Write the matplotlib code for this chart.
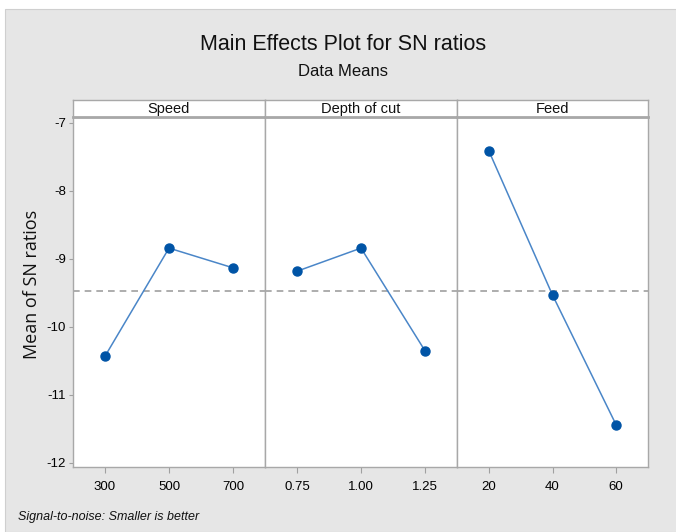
import matplotlib
matplotlib.use("Agg")
import matplotlib.pyplot as plt
from matplotlib.patches import Rectangle
import logging
logging.getLogger("matplotlib.font_manager").setLevel(logging.ERROR)

factors = ["Speed", "Depth of cut", "Feed"]
levels = [["300", "500", "700"], ["0.75", "1.00", "1.25"], ["20", "40", "60"]]
speed_sn = [-10.43, -8.84, -9.13]
depth_sn = [-9.18, -8.84, -10.35]
feed_sn = [-7.41, -9.53, -11.44]
series = [speed_sn, depth_sn, feed_sn]
yticks = [-7, -8, -9, -10, -11, -12]

grand_mean = sum(speed_sn) / 3.0

W, H = 676, 532
fig = plt.figure(figsize=(W / 100, H / 100), dpi=100)
fig.patch.set_facecolor("white")
fig.add_artist(Rectangle((5 / W, 0), 1, 1 - 9 / H, transform=fig.transFigure,
                         facecolor="#e6e6e6", edgecolor="#cfcfcf", lw=0.8, zorder=0))

narrow = ["Liberation Sans", "DejaVu Sans"]

fig.text(343 / W, 1 - 45 / H, "Main Effects Plot for SN ratios", ha="center", va="center",
         fontsize=15.5, family=narrow, color="#111111")
fig.text(343 / W, 1 - 72 / H, "Data Means", ha="center", va="center",
         fontsize=12, family=narrow, color="#111111")

edges = [73, 265, 457, 648]
top, bottom = 117, 467
strip_top = 100
line_col = "#4a86c8"
mark_col = "#0054a6"
spine_col = "#a8a8a8"

for i in range(3):
    x0, x1 = edges[i], edges[i + 1]
    ax = fig.add_axes([x0 / W, 1 - bottom / H, (x1 - x0) / W, (bottom - top) / H])
    ax.set_facecolor("white")
    xs = [1, 2, 3]
    ax.axhline(grand_mean, color="#a0a0a0", ls=(0, (4, 3)), lw=1.2, zorder=1)
    ax.plot(xs, series[i], color=line_col, lw=1.1, zorder=2)
    ax.plot(xs, series[i], "o", color=mark_col, ms=6.5, zorder=3)
    ax.set_xlim(0.5, 3.5)
    ax.set_ylim(-12.059, -6.912)
    ax.set_xticks(xs)
    ax.set_xticklabels(levels[i], family=narrow, fontsize=9.5)
    ax.tick_params(axis="x", length=4, color="#a0a0a0", pad=6)
    if i == 0:
        ax.set_yticks(yticks)
        ax.set_yticklabels([str(v) for v in yticks], family=narrow, fontsize=9.5)
        ax.tick_params(axis="y", length=3, color="#a0a0a0", pad=2)
    else:
        ax.set_yticks([])
    for s in ax.spines.values():
        s.set_color(spine_col)
        s.set_linewidth(1.0)
    sax = fig.add_axes([x0 / W, 1 - top / H, (x1 - x0) / W, (top - strip_top) / H])
    sax.set_facecolor("white")
    sax.set_xticks([])
    sax.set_yticks([])
    for s in sax.spines.values():
        s.set_color(spine_col)
        s.set_linewidth(1.0)
    sax.spines["bottom"].set_linewidth(2.0)
    sax.text(0.5, 0.45, factors[i], ha="center", va="center", transform=sax.transAxes,
             fontsize=10.5, family=narrow, color="#111111")

fig.text(32 / W, 1 - 284 / H, "Mean of SN ratios", rotation=90, ha="center", va="center",
         fontsize=13, family=["Open Sans", "DejaVu Sans"], color="#111111")
fig.text(18 / W, 1 - 517 / H, "Signal-to-noise: Smaller is better", ha="left", va="center",
         fontsize=9, family=narrow, style="italic", color="#111111")

fig.savefig("out.png", dpi=100)
